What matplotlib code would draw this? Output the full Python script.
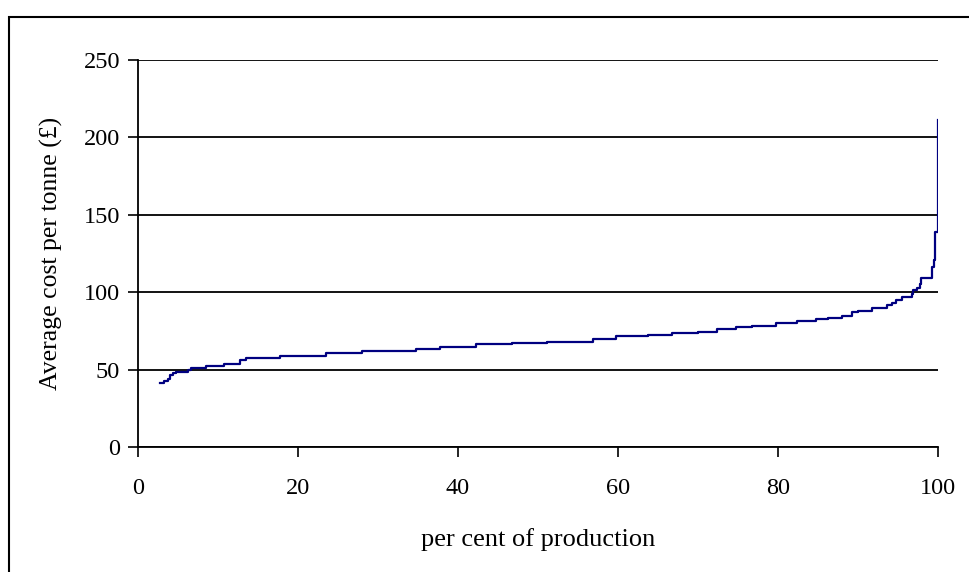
import numpy as np
import matplotlib
matplotlib.use('Agg')
from matplotlib import pyplot as plt
from matplotlib.patches import Rectangle

# step starts (per cent of production) and average cost level (GBP/tonne)
pct = [2.75, 3.3, 3.7, 4.0, 4.4, 4.8, 6.3, 6.6, 8.5, 10.7, 12.75, 13.5, 17.75,
       23.5, 28.0, 34.8, 37.7, 42.3, 46.8, 51.1, 56.9, 59.75, 63.8, 66.8,
       70.0, 72.4, 74.75, 76.8, 79.75, 82.4, 84.8, 86.2, 88.0, 89.3, 90.0,
       91.7, 93.6, 94.2, 94.8, 95.5, 96.7, 96.9, 97.4, 97.7, 97.9, 99.3,
       99.45, 99.6, 99.95, 100.0]
cost = [41.5, 42.5, 44.0, 46.5, 48.0, 48.6, 50.0, 51.2, 52.4, 53.7, 56.4, 57.7,
        59.1, 60.9, 62.0, 63.1, 64.4, 66.3, 67.2, 68.0, 69.6, 71.5, 72.6, 73.4,
        74.5, 76.3, 77.3, 78.4, 79.9, 81.6, 82.7, 83.5, 84.6, 87.0, 87.9,
        89.6, 91.7, 92.8, 95.0, 97.1, 98.8, 101.4, 102.5, 105.3, 109.4, 116.5,
        120.8, 139.0, 211.0, 211.0]

x_ticks = [0, 20, 40, 60, 80, 100]
y_ticks = [0, 50, 100, 150, 200, 250]

plt.rcParams['font.family'] = 'Liberation Serif'

fig = plt.figure(figsize=(9.7, 5.72), dpi=100)
ax = fig.add_axes([138/970, 1 - 447/572, 800/970, 387/572])

ax.plot(pct, cost, drawstyle='steps-post', color='#000080', linewidth=1.6)

ax.set_xlim(0, 100)
ax.set_ylim(0, 250)
ax.set_xticks(x_ticks)
ax.set_yticks(y_ticks)
ax.tick_params(labelsize=17.5, length=7, width=1.2, color='black')
ax.tick_params(axis='y', pad=6)
ax.tick_params(axis='x', pad=15)

ax.grid(axis='y', color='black', linewidth=1.3)
ax.set_axisbelow(True)
for s in ['top', 'right']:
    ax.spines[s].set_visible(False)
for s in ['left', 'bottom']:
    ax.spines[s].set_linewidth(1.3)

ax.set_xlabel("per cent of production", fontsize=19)
ax.xaxis.set_label_coords(0.5, -0.21)
ax.set_ylabel("Average cost per tonne (£)", fontsize=18.5)
ax.yaxis.set_label_coords(-0.094, 0.5)

# outer chart frame
fig.add_artist(Rectangle((9/970, -0.2), 1.2, 1.2 - 17/572, transform=fig.transFigure,
                         fill=False, edgecolor='black', linewidth=1.5, clip_on=False))

fig.savefig('out.png', dpi=100)
